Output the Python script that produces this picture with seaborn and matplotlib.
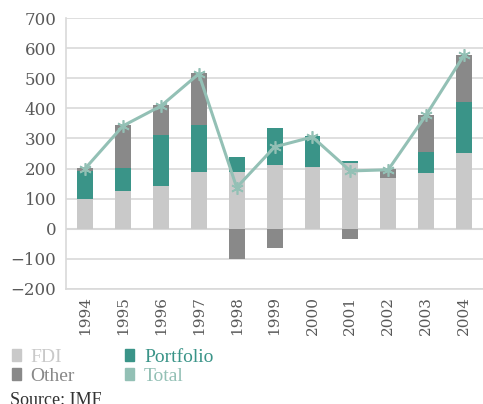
import numpy as np
import pandas as pd
import matplotlib
matplotlib.use("Agg")
import matplotlib.pyplot as plt
from matplotlib.patches import Patch
import seaborn as sns

years = ["1994", "1995", "1996", "1997", "1998", "1999", "2000", "2001", "2002", "2003", "2004"]
fdi = [100, 126, 143, 189, 189, 212, 206, 219, 169, 186, 252]
portfolio = [92, 76, 169, 156, 50, 123, 103, 7, 0, 69, 169]
other = [10, 143, 99, 173, -100, -63, 0, -33, 30, 123, 156]
total = [200, 342, 408, 515, 137, 272, 305, 192, 196, 378, 577]

c_fdi = "#c9c9c9"
c_port = "#3a9488"
c_other = "#898989"
c_total = "#93c0b5"
c_text = "#595959"

sns.set_theme(style="white")
plt.rcParams["font.family"] = ["DejaVu Serif"]

fig = plt.figure(figsize=(4.83, 4.04), dpi=100)
ax = fig.add_axes([0.137, 0.285, 0.863, 0.67])

df = pd.DataFrame({"year": years, "fdi": fdi, "portfolio": portfolio,
                   "other": other, "total": total})

# stacking bottoms (positives stack up, negatives stack down)
pos = np.zeros(len(years))
neg = np.zeros(len(years))
bottoms = {}
for key in ["fdi", "portfolio", "other"]:
    v = df[key].to_numpy(dtype=float)
    b = np.where(v >= 0, pos, neg)
    bottoms[key] = b
    pos = pos + np.where(v >= 0, v, 0)
    neg = neg + np.where(v < 0, v, 0)

for key, col in [("fdi", c_fdi), ("portfolio", c_port), ("other", c_other)]:
    sns.barplot(data=df, x="year", y=key, color=col, saturation=1, width=0.42,
                bottom=bottoms[key], ax=ax, errorbar=None, linewidth=0)

sns.pointplot(data=df, x="year", y="total", color=c_total, ax=ax,
              marker=(6, 2, 0), markersize=9, linewidth=2.2, errorbar=None,
              markeredgewidth=1.2)

ax.set_ylim(-200, 700)
ax.set_yticks(range(-200, 701, 100))
ax.set_xlim(-0.5, 10.5)
ax.yaxis.grid(True, color="#d9d9d9", linewidth=1.2)
ax.set_axisbelow(True)
ax.axhline(0, color="#d4d4d4", linewidth=1.5, zorder=0.5)
for s in ["top", "right"]:
    ax.spines[s].set_visible(False)
ax.spines["left"].set_color("#d9d9d9")
ax.spines["bottom"].set_color("#d9d9d9")
ax.spines["left"].set_linewidth(1.2)
ax.spines["bottom"].set_linewidth(1.2)
ax.set_xlabel("")
ax.set_ylabel("")
ax.tick_params(axis="y", length=0, labelsize=12, labelcolor=c_text, pad=7)
ax.tick_params(axis="x", length=0, labelsize=11, labelcolor=c_text, pad=5)
plt.setp(ax.get_xticklabels(), rotation=90)

handles = [Patch(color=c_fdi), Patch(color=c_other),
           Patch(color=c_port), Patch(color=c_total)]
labels = ["FDI", "Other", "Portfolio", "Total"]
leg = fig.legend(handles, labels, ncol=2, loc="upper left",
                 bbox_to_anchor=(0.025, 0.136), frameon=False, borderpad=0,
                 borderaxespad=0,
                 handlelength=0.45, handleheight=0.55, handletextpad=0.5,
                 columnspacing=2.6, labelspacing=0.08,
                 prop={"family": "Liberation Serif", "size": 14})
for t, col in zip(leg.get_texts(), [c_fdi, c_other, c_port, c_total]):
    t.set_color(col)

fig.text(0.02, 0.03, "Source: IMF", fontsize=13, color="#333333", va="top",
         family="Liberation Serif")

fig.savefig("out.png", dpi=100)
